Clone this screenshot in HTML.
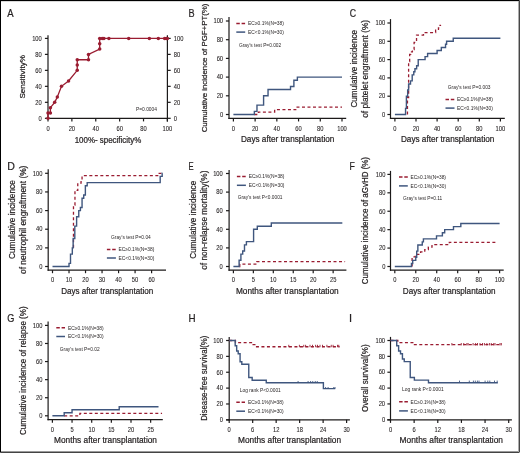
<!DOCTYPE html><html><head><meta charset="utf-8"><style>html,body{margin:0;padding:0;background:#fff;overflow:hidden;}svg{display:block;will-change:transform;} text{stroke:#231f20;stroke-width:0;} .t1{stroke-width:0.22px;} .t2{stroke-width:0.08px;}</style></head><body>
<svg width="520" height="453" viewBox="0 0 520 453" font-family='"Liberation Sans", sans-serif'>
<rect x="0" y="0" width="520" height="453" fill="#fff"/>
<text transform="translate(7.35,16.70) scale(0.867,1)" font-size="11.01" class="t1" fill="#231f20">A</text>
<line x1="48.0" y1="35.3" x2="48.0" y2="118.89999999999999" stroke="#1c1a1a" stroke-width="1.2"/>
<line x1="47.4" y1="118.3" x2="167.4" y2="118.3" stroke="#1c1a1a" stroke-width="1.2"/>
<line x1="44.9" y1="118.3" x2="48.0" y2="118.3" stroke="#1c1a1a" stroke-width="1.2"/>
<text x="41.8" y="120.57" font-size="6.3" text-anchor="end" textLength="3.22" lengthAdjust="spacingAndGlyphs" class="t2" fill="#231f20">0</text>
<line x1="44.9" y1="102.32" x2="48.0" y2="102.32" stroke="#1c1a1a" stroke-width="1.2"/>
<text x="41.8" y="104.59" font-size="6.3" text-anchor="end" textLength="6.45" lengthAdjust="spacingAndGlyphs" class="t2" fill="#231f20">20</text>
<line x1="44.9" y1="86.34" x2="48.0" y2="86.34" stroke="#1c1a1a" stroke-width="1.2"/>
<text x="41.8" y="88.61" font-size="6.3" text-anchor="end" textLength="6.45" lengthAdjust="spacingAndGlyphs" class="t2" fill="#231f20">40</text>
<line x1="44.9" y1="70.36" x2="48.0" y2="70.36" stroke="#1c1a1a" stroke-width="1.2"/>
<text x="41.8" y="72.63" font-size="6.3" text-anchor="end" textLength="6.45" lengthAdjust="spacingAndGlyphs" class="t2" fill="#231f20">60</text>
<line x1="44.9" y1="54.38" x2="48.0" y2="54.38" stroke="#1c1a1a" stroke-width="1.2"/>
<text x="41.8" y="56.65" font-size="6.3" text-anchor="end" textLength="6.45" lengthAdjust="spacingAndGlyphs" class="t2" fill="#231f20">80</text>
<line x1="44.9" y1="38.4" x2="48.0" y2="38.4" stroke="#1c1a1a" stroke-width="1.2"/>
<text x="41.8" y="40.67" font-size="6.3" text-anchor="end" textLength="9.67" lengthAdjust="spacingAndGlyphs" class="t2" fill="#231f20">100</text>
<line x1="48.0" y1="118.3" x2="48.0" y2="121.39999999999999" stroke="#1c1a1a" stroke-width="1.2"/>
<text x="48.0" y="130.57" font-size="6.3" text-anchor="middle" textLength="3.22" lengthAdjust="spacingAndGlyphs" class="t2" fill="#231f20">0</text>
<line x1="71.88" y1="118.3" x2="71.88" y2="121.39999999999999" stroke="#1c1a1a" stroke-width="1.2"/>
<text x="71.88" y="130.57" font-size="6.3" text-anchor="middle" textLength="6.45" lengthAdjust="spacingAndGlyphs" class="t2" fill="#231f20">20</text>
<line x1="95.76" y1="118.3" x2="95.76" y2="121.39999999999999" stroke="#1c1a1a" stroke-width="1.2"/>
<text x="95.76" y="130.57" font-size="6.3" text-anchor="middle" textLength="6.45" lengthAdjust="spacingAndGlyphs" class="t2" fill="#231f20">40</text>
<line x1="119.64" y1="118.3" x2="119.64" y2="121.39999999999999" stroke="#1c1a1a" stroke-width="1.2"/>
<text x="119.64" y="130.57" font-size="6.3" text-anchor="middle" textLength="6.45" lengthAdjust="spacingAndGlyphs" class="t2" fill="#231f20">60</text>
<line x1="143.52" y1="118.3" x2="143.52" y2="121.39999999999999" stroke="#1c1a1a" stroke-width="1.2"/>
<text x="143.52" y="130.57" font-size="6.3" text-anchor="middle" textLength="6.45" lengthAdjust="spacingAndGlyphs" class="t2" fill="#231f20">80</text>
<line x1="167.4" y1="118.3" x2="167.4" y2="121.39999999999999" stroke="#1c1a1a" stroke-width="1.2"/>
<text x="167.4" y="130.57" font-size="6.3" text-anchor="middle" textLength="9.67" lengthAdjust="spacingAndGlyphs" class="t2" fill="#231f20">100</text>
<line x1="167.4" y1="35.2" x2="167.4" y2="121.6" stroke="#1c1a1a" stroke-width="1.2"/>
<line x1="167.4" y1="118.3" x2="170.7" y2="118.3" stroke="#1c1a1a" stroke-width="1.2"/>
<text x="173.8" y="120.57" font-size="6.3" textLength="3.22" lengthAdjust="spacingAndGlyphs" class="t2" fill="#231f20">0</text>
<line x1="167.4" y1="102.32" x2="170.7" y2="102.32" stroke="#1c1a1a" stroke-width="1.2"/>
<text x="173.8" y="104.59" font-size="6.3" textLength="6.45" lengthAdjust="spacingAndGlyphs" class="t2" fill="#231f20">20</text>
<line x1="167.4" y1="86.34" x2="170.7" y2="86.34" stroke="#1c1a1a" stroke-width="1.2"/>
<text x="173.8" y="88.61" font-size="6.3" textLength="6.45" lengthAdjust="spacingAndGlyphs" class="t2" fill="#231f20">40</text>
<line x1="167.4" y1="70.36" x2="170.7" y2="70.36" stroke="#1c1a1a" stroke-width="1.2"/>
<text x="173.8" y="72.63" font-size="6.3" textLength="6.45" lengthAdjust="spacingAndGlyphs" class="t2" fill="#231f20">60</text>
<line x1="167.4" y1="54.38" x2="170.7" y2="54.38" stroke="#1c1a1a" stroke-width="1.2"/>
<text x="173.8" y="56.65" font-size="6.3" textLength="6.45" lengthAdjust="spacingAndGlyphs" class="t2" fill="#231f20">80</text>
<line x1="167.4" y1="38.4" x2="170.7" y2="38.4" stroke="#1c1a1a" stroke-width="1.2"/>
<text x="173.8" y="40.67" font-size="6.3" textLength="9.67" lengthAdjust="spacingAndGlyphs" class="t2" fill="#231f20">100</text>
<text x="24.9" y="76.85" font-size="8.1" text-anchor="middle" transform="rotate(-90 24.9 76.85)" textLength="43.5" lengthAdjust="spacingAndGlyphs" class="t1" fill="#231f20">Sensitivity%</text>
<text x="108.0" y="142.5" font-size="8.2" text-anchor="middle" textLength="66.6" lengthAdjust="spacingAndGlyphs" class="t1" fill="#231f20">100%- specificity%</text>
<text x="136" y="111.1" font-size="4.8" textLength="21" lengthAdjust="spacingAndGlyphs" fill="#231f20">P=0.0004</text>
<path d="M48.0,118.3 L48.0,112.97 L50.39,112.97 L50.39,107.67 L54.69,102.32 L57.31,96.97 L61.49,86.34 L68.54,80.99 L77.25,70.36 L77.25,65.01 L77.25,59.73 L88.48,59.73 L88.48,54.38 L99.7,49.03 L99.7,43.75 L99.7,38.4 L102.21,38.4 L103.88,38.4 L108.89,38.4 L128.71,38.4 L149.37,38.4 L158.33,38.4 L164.65,38.4 L166.33,38.4 L167.4,38.4" fill="none" stroke="#9a1c31" stroke-width="1.3"/>
<circle cx="48.0" cy="118.3" r="1.75" fill="#9a1c31"/>
<circle cx="48.0" cy="112.97" r="1.75" fill="#9a1c31"/>
<circle cx="50.39" cy="112.97" r="1.75" fill="#9a1c31"/>
<circle cx="50.39" cy="107.67" r="1.75" fill="#9a1c31"/>
<circle cx="54.69" cy="102.32" r="1.75" fill="#9a1c31"/>
<circle cx="57.31" cy="96.97" r="1.75" fill="#9a1c31"/>
<circle cx="61.49" cy="86.34" r="1.75" fill="#9a1c31"/>
<circle cx="68.54" cy="80.99" r="1.75" fill="#9a1c31"/>
<circle cx="77.25" cy="70.36" r="1.75" fill="#9a1c31"/>
<circle cx="77.25" cy="65.01" r="1.75" fill="#9a1c31"/>
<circle cx="77.25" cy="59.73" r="1.75" fill="#9a1c31"/>
<circle cx="88.48" cy="59.73" r="1.75" fill="#9a1c31"/>
<circle cx="88.48" cy="54.38" r="1.75" fill="#9a1c31"/>
<circle cx="99.7" cy="49.03" r="1.75" fill="#9a1c31"/>
<circle cx="99.7" cy="43.75" r="1.75" fill="#9a1c31"/>
<circle cx="99.7" cy="38.4" r="1.75" fill="#9a1c31"/>
<circle cx="102.21" cy="38.4" r="1.75" fill="#9a1c31"/>
<circle cx="103.88" cy="38.4" r="1.75" fill="#9a1c31"/>
<circle cx="108.89" cy="38.4" r="1.75" fill="#9a1c31"/>
<circle cx="128.71" cy="38.4" r="1.75" fill="#9a1c31"/>
<circle cx="149.37" cy="38.4" r="1.75" fill="#9a1c31"/>
<circle cx="158.33" cy="38.4" r="1.75" fill="#9a1c31"/>
<circle cx="164.65" cy="38.4" r="1.75" fill="#9a1c31"/>
<circle cx="166.33" cy="38.4" r="1.75" fill="#9a1c31"/>
<circle cx="167.4" cy="38.4" r="1.75" fill="#9a1c31"/>
<text transform="translate(188.47,16.70) scale(0.832,1)" font-size="11.01" class="t1" fill="#231f20">B</text>
<line x1="229.0" y1="17.1" x2="229.0" y2="118.94999999999999" stroke="#1c1a1a" stroke-width="1.2"/>
<line x1="228.4" y1="118.35" x2="346.2" y2="118.35" stroke="#1c1a1a" stroke-width="1.2"/>
<line x1="225.9" y1="114.5" x2="229.0" y2="114.5" stroke="#1c1a1a" stroke-width="1.2"/>
<text x="223.1" y="116.77" font-size="6.3" text-anchor="end" textLength="3.22" lengthAdjust="spacingAndGlyphs" class="t2" fill="#231f20">0</text>
<line x1="225.9" y1="95.8" x2="229.0" y2="95.8" stroke="#1c1a1a" stroke-width="1.2"/>
<text x="223.1" y="98.07" font-size="6.3" text-anchor="end" textLength="6.45" lengthAdjust="spacingAndGlyphs" class="t2" fill="#231f20">20</text>
<line x1="225.9" y1="77.1" x2="229.0" y2="77.1" stroke="#1c1a1a" stroke-width="1.2"/>
<text x="223.1" y="79.37" font-size="6.3" text-anchor="end" textLength="6.45" lengthAdjust="spacingAndGlyphs" class="t2" fill="#231f20">40</text>
<line x1="225.9" y1="58.4" x2="229.0" y2="58.4" stroke="#1c1a1a" stroke-width="1.2"/>
<text x="223.1" y="60.67" font-size="6.3" text-anchor="end" textLength="6.45" lengthAdjust="spacingAndGlyphs" class="t2" fill="#231f20">60</text>
<line x1="225.9" y1="39.7" x2="229.0" y2="39.7" stroke="#1c1a1a" stroke-width="1.2"/>
<text x="223.1" y="41.97" font-size="6.3" text-anchor="end" textLength="6.45" lengthAdjust="spacingAndGlyphs" class="t2" fill="#231f20">80</text>
<line x1="225.9" y1="21.0" x2="229.0" y2="21.0" stroke="#1c1a1a" stroke-width="1.2"/>
<text x="223.1" y="23.27" font-size="6.3" text-anchor="end" textLength="9.67" lengthAdjust="spacingAndGlyphs" class="t2" fill="#231f20">100</text>
<line x1="233.4" y1="118.35" x2="233.4" y2="121.44999999999999" stroke="#1c1a1a" stroke-width="1.2"/>
<text x="233.4" y="130.87" font-size="6.3" text-anchor="middle" textLength="3.22" lengthAdjust="spacingAndGlyphs" class="t2" fill="#231f20">0</text>
<line x1="255.12" y1="118.35" x2="255.12" y2="121.44999999999999" stroke="#1c1a1a" stroke-width="1.2"/>
<text x="255.12" y="130.87" font-size="6.3" text-anchor="middle" textLength="6.45" lengthAdjust="spacingAndGlyphs" class="t2" fill="#231f20">20</text>
<line x1="276.84" y1="118.35" x2="276.84" y2="121.44999999999999" stroke="#1c1a1a" stroke-width="1.2"/>
<text x="276.84" y="130.87" font-size="6.3" text-anchor="middle" textLength="6.45" lengthAdjust="spacingAndGlyphs" class="t2" fill="#231f20">40</text>
<line x1="298.56" y1="118.35" x2="298.56" y2="121.44999999999999" stroke="#1c1a1a" stroke-width="1.2"/>
<text x="298.56" y="130.87" font-size="6.3" text-anchor="middle" textLength="6.45" lengthAdjust="spacingAndGlyphs" class="t2" fill="#231f20">60</text>
<line x1="320.28" y1="118.35" x2="320.28" y2="121.44999999999999" stroke="#1c1a1a" stroke-width="1.2"/>
<text x="320.28" y="130.87" font-size="6.3" text-anchor="middle" textLength="6.45" lengthAdjust="spacingAndGlyphs" class="t2" fill="#231f20">80</text>
<line x1="342.0" y1="118.35" x2="342.0" y2="121.44999999999999" stroke="#1c1a1a" stroke-width="1.2"/>
<text x="342.0" y="130.87" font-size="6.3" text-anchor="middle" textLength="9.67" lengthAdjust="spacingAndGlyphs" class="t2" fill="#231f20">100</text>
<text x="206.8" y="67.9" font-size="8.0" text-anchor="middle" transform="rotate(-90 206.8 67.9)" textLength="128.8" lengthAdjust="spacingAndGlyphs" class="t1" fill="#231f20">Cumulative incidence of PGF+PT(%)</text>
<text x="287.65" y="141.6" font-size="8.7" text-anchor="middle" textLength="93.5" lengthAdjust="spacingAndGlyphs" class="t1" fill="#231f20">Days after transplantation</text>
<line x1="236.3" y1="23.5" x2="245.2" y2="23.5" stroke="#9a1c31" stroke-width="1.5" stroke-dasharray="3.5 1.8"/>
<line x1="236.3" y1="32.1" x2="245.2" y2="32.1" stroke="#3f567e" stroke-width="1.5"/>
<text x="248.1" y="25.3" font-size="5.0" textLength="35.8" lengthAdjust="spacingAndGlyphs" fill="#231f20">EC≥0.1%(N=38)</text>
<text x="248.1" y="33.9" font-size="5.0" textLength="35.8" lengthAdjust="spacingAndGlyphs" fill="#231f20">EC&lt;0.1%(N=30)</text>
<text x="239" y="46.7" font-size="5.0" textLength="42.2" lengthAdjust="spacingAndGlyphs" fill="#231f20">Gray's test P=0.002</text>
<path d="M254.36,114.5H258.38V112.04H274.67V109.58H295.74V107.12H342.0" fill="none" stroke="#9a1c31" stroke-width="1.3" stroke-dasharray="3 2.5"/>
<path d="M233.4,114.5H254.36V111.39H256.97V105.15H263.59V95.8H268.04V89.54H290.52V86.45H293.89V80.19H297.37V77.1H342.0" fill="none" stroke="#3f567e" stroke-width="1.4"/>
<text transform="translate(349.76,16.90) scale(0.753,1)" font-size="11.59" class="t1" fill="#231f20">C</text>
<line x1="390.5" y1="19.1" x2="390.5" y2="118.89999999999999" stroke="#1c1a1a" stroke-width="1.2"/>
<line x1="389.9" y1="118.3" x2="504.8" y2="118.3" stroke="#1c1a1a" stroke-width="1.2"/>
<line x1="387.4" y1="114.5" x2="390.5" y2="114.5" stroke="#1c1a1a" stroke-width="1.2"/>
<text x="385.2" y="116.77" font-size="6.3" text-anchor="end" textLength="3.22" lengthAdjust="spacingAndGlyphs" class="t2" fill="#231f20">0</text>
<line x1="387.4" y1="96.2" x2="390.5" y2="96.2" stroke="#1c1a1a" stroke-width="1.2"/>
<text x="385.2" y="98.47" font-size="6.3" text-anchor="end" textLength="6.45" lengthAdjust="spacingAndGlyphs" class="t2" fill="#231f20">20</text>
<line x1="387.4" y1="77.9" x2="390.5" y2="77.9" stroke="#1c1a1a" stroke-width="1.2"/>
<text x="385.2" y="80.17" font-size="6.3" text-anchor="end" textLength="6.45" lengthAdjust="spacingAndGlyphs" class="t2" fill="#231f20">40</text>
<line x1="387.4" y1="59.6" x2="390.5" y2="59.6" stroke="#1c1a1a" stroke-width="1.2"/>
<text x="385.2" y="61.87" font-size="6.3" text-anchor="end" textLength="6.45" lengthAdjust="spacingAndGlyphs" class="t2" fill="#231f20">60</text>
<line x1="387.4" y1="41.3" x2="390.5" y2="41.3" stroke="#1c1a1a" stroke-width="1.2"/>
<text x="385.2" y="43.57" font-size="6.3" text-anchor="end" textLength="6.45" lengthAdjust="spacingAndGlyphs" class="t2" fill="#231f20">80</text>
<line x1="387.4" y1="23.0" x2="390.5" y2="23.0" stroke="#1c1a1a" stroke-width="1.2"/>
<text x="385.2" y="25.27" font-size="6.3" text-anchor="end" textLength="9.67" lengthAdjust="spacingAndGlyphs" class="t2" fill="#231f20">100</text>
<line x1="394.9" y1="118.3" x2="394.9" y2="121.39999999999999" stroke="#1c1a1a" stroke-width="1.2"/>
<text x="394.9" y="130.57" font-size="6.3" text-anchor="middle" textLength="3.22" lengthAdjust="spacingAndGlyphs" class="t2" fill="#231f20">0</text>
<line x1="416.0" y1="118.3" x2="416.0" y2="121.39999999999999" stroke="#1c1a1a" stroke-width="1.2"/>
<text x="416.0" y="130.57" font-size="6.3" text-anchor="middle" textLength="6.45" lengthAdjust="spacingAndGlyphs" class="t2" fill="#231f20">20</text>
<line x1="437.1" y1="118.3" x2="437.1" y2="121.39999999999999" stroke="#1c1a1a" stroke-width="1.2"/>
<text x="437.1" y="130.57" font-size="6.3" text-anchor="middle" textLength="6.45" lengthAdjust="spacingAndGlyphs" class="t2" fill="#231f20">40</text>
<line x1="458.2" y1="118.3" x2="458.2" y2="121.39999999999999" stroke="#1c1a1a" stroke-width="1.2"/>
<text x="458.2" y="130.57" font-size="6.3" text-anchor="middle" textLength="6.45" lengthAdjust="spacingAndGlyphs" class="t2" fill="#231f20">60</text>
<line x1="479.3" y1="118.3" x2="479.3" y2="121.39999999999999" stroke="#1c1a1a" stroke-width="1.2"/>
<text x="479.3" y="130.57" font-size="6.3" text-anchor="middle" textLength="6.45" lengthAdjust="spacingAndGlyphs" class="t2" fill="#231f20">80</text>
<line x1="500.4" y1="118.3" x2="500.4" y2="121.39999999999999" stroke="#1c1a1a" stroke-width="1.2"/>
<text x="500.4" y="130.57" font-size="6.3" text-anchor="middle" textLength="9.67" lengthAdjust="spacingAndGlyphs" class="t2" fill="#231f20">100</text>
<text x="356.9" y="68.75" font-size="8.3" text-anchor="middle" transform="rotate(-90 356.9 68.75)" textLength="77.7" lengthAdjust="spacingAndGlyphs" class="t1" fill="#231f20">Cumulative incidence</text>
<text x="368.0" y="68.85" font-size="8.3" text-anchor="middle" transform="rotate(-90 368.0 68.85)" textLength="97.9" lengthAdjust="spacingAndGlyphs" class="t1" fill="#231f20">of platelet engraftment (%)</text>
<text x="447.65" y="141.6" font-size="8.7" text-anchor="middle" textLength="93.5" lengthAdjust="spacingAndGlyphs" class="t1" fill="#231f20">Days after transplantation</text>
<text x="447.8" y="89.3" font-size="5.0" textLength="42.8" lengthAdjust="spacingAndGlyphs" fill="#231f20">Gray's test P=0.003</text>
<line x1="445.5" y1="99.6" x2="454.5" y2="99.6" stroke="#9a1c31" stroke-width="1.5" stroke-dasharray="3.5 1.8"/>
<line x1="445.5" y1="108.1" x2="454.5" y2="108.1" stroke="#3f567e" stroke-width="1.5"/>
<text x="456.9" y="101.4" font-size="5.0" textLength="36" lengthAdjust="spacingAndGlyphs" fill="#231f20">EC≥0.1%(N=38)</text>
<text x="456.9" y="109.9" font-size="5.0" textLength="36" lengthAdjust="spacingAndGlyphs" fill="#231f20">EC&lt;0.1%(N=30)</text>
<path d="M407.45,114.5H407.45V97.66H408.61V61.52H409.67V54.29H410.72V51.91H412.41V49.49H414.1V42.31H416.53V35.08H423.49V32.61H435.62V30.23H438.47V27.85H440.05V25.38H441.11" fill="none" stroke="#9a1c31" stroke-width="1.3" stroke-dasharray="3 2.5"/>
<path d="M394.9,114.5H405.56V108.4H406.4V96.2H407.67V90.07H408.61V84.03H410.51V80.92H412.2V74.88H413.78V71.77H414.94V68.75H416.63V65.73H418.22V59.6H425.07V56.58H427.6V53.47H437.1V50.45H441.32V47.43H445.54V44.32H446.59V41.3H453.24V38.28H500.4" fill="none" stroke="#3f567e" stroke-width="1.4"/>
<text transform="translate(7.35,169.70) scale(0.961,1)" font-size="11.01" class="t1" fill="#231f20">D</text>
<line x1="48.2" y1="169.2" x2="48.2" y2="270.70000000000005" stroke="#1c1a1a" stroke-width="1.2"/>
<line x1="47.6" y1="270.1" x2="166.0" y2="270.1" stroke="#1c1a1a" stroke-width="1.2"/>
<line x1="45.1" y1="266.5" x2="48.2" y2="266.5" stroke="#1c1a1a" stroke-width="1.2"/>
<text x="42.4" y="268.77" font-size="6.3" text-anchor="end" textLength="3.22" lengthAdjust="spacingAndGlyphs" class="t2" fill="#231f20">0</text>
<line x1="45.1" y1="247.86" x2="48.2" y2="247.86" stroke="#1c1a1a" stroke-width="1.2"/>
<text x="42.4" y="250.13" font-size="6.3" text-anchor="end" textLength="6.45" lengthAdjust="spacingAndGlyphs" class="t2" fill="#231f20">20</text>
<line x1="45.1" y1="229.22" x2="48.2" y2="229.22" stroke="#1c1a1a" stroke-width="1.2"/>
<text x="42.4" y="231.49" font-size="6.3" text-anchor="end" textLength="6.45" lengthAdjust="spacingAndGlyphs" class="t2" fill="#231f20">40</text>
<line x1="45.1" y1="210.58" x2="48.2" y2="210.58" stroke="#1c1a1a" stroke-width="1.2"/>
<text x="42.4" y="212.85" font-size="6.3" text-anchor="end" textLength="6.45" lengthAdjust="spacingAndGlyphs" class="t2" fill="#231f20">60</text>
<line x1="45.1" y1="191.94" x2="48.2" y2="191.94" stroke="#1c1a1a" stroke-width="1.2"/>
<text x="42.4" y="194.21" font-size="6.3" text-anchor="end" textLength="6.45" lengthAdjust="spacingAndGlyphs" class="t2" fill="#231f20">80</text>
<line x1="45.1" y1="173.3" x2="48.2" y2="173.3" stroke="#1c1a1a" stroke-width="1.2"/>
<text x="42.4" y="175.57" font-size="6.3" text-anchor="end" textLength="9.67" lengthAdjust="spacingAndGlyphs" class="t2" fill="#231f20">100</text>
<line x1="52.5" y1="270.1" x2="52.5" y2="273.20000000000005" stroke="#1c1a1a" stroke-width="1.2"/>
<text x="52.5" y="282.47" font-size="6.3" text-anchor="middle" textLength="3.22" lengthAdjust="spacingAndGlyphs" class="t2" fill="#231f20">0</text>
<line x1="69.02" y1="270.1" x2="69.02" y2="273.20000000000005" stroke="#1c1a1a" stroke-width="1.2"/>
<text x="69.02" y="282.47" font-size="6.3" text-anchor="middle" textLength="6.45" lengthAdjust="spacingAndGlyphs" class="t2" fill="#231f20">10</text>
<line x1="85.53" y1="270.1" x2="85.53" y2="273.20000000000005" stroke="#1c1a1a" stroke-width="1.2"/>
<text x="85.53" y="282.47" font-size="6.3" text-anchor="middle" textLength="6.45" lengthAdjust="spacingAndGlyphs" class="t2" fill="#231f20">20</text>
<line x1="102.05" y1="270.1" x2="102.05" y2="273.20000000000005" stroke="#1c1a1a" stroke-width="1.2"/>
<text x="102.05" y="282.47" font-size="6.3" text-anchor="middle" textLength="6.45" lengthAdjust="spacingAndGlyphs" class="t2" fill="#231f20">30</text>
<line x1="118.57" y1="270.1" x2="118.57" y2="273.20000000000005" stroke="#1c1a1a" stroke-width="1.2"/>
<text x="118.57" y="282.47" font-size="6.3" text-anchor="middle" textLength="6.45" lengthAdjust="spacingAndGlyphs" class="t2" fill="#231f20">40</text>
<line x1="135.08" y1="270.1" x2="135.08" y2="273.20000000000005" stroke="#1c1a1a" stroke-width="1.2"/>
<text x="135.08" y="282.47" font-size="6.3" text-anchor="middle" textLength="6.45" lengthAdjust="spacingAndGlyphs" class="t2" fill="#231f20">50</text>
<line x1="151.6" y1="270.1" x2="151.6" y2="273.20000000000005" stroke="#1c1a1a" stroke-width="1.2"/>
<text x="151.6" y="282.47" font-size="6.3" text-anchor="middle" textLength="6.45" lengthAdjust="spacingAndGlyphs" class="t2" fill="#231f20">60</text>
<text x="14.7" y="219.6" font-size="8.8" text-anchor="middle" transform="rotate(-90 14.7 219.6)" textLength="78.8" lengthAdjust="spacingAndGlyphs" class="t1" fill="#231f20">Cumulative incidence</text>
<text x="26.2" y="219.8" font-size="8.8" text-anchor="middle" transform="rotate(-90 26.2 219.8)" textLength="108.4" lengthAdjust="spacingAndGlyphs" class="t1" fill="#231f20">of neutrophil engraftment (%)</text>
<text x="107.2" y="293.8" font-size="8.7" text-anchor="middle" textLength="92.0" lengthAdjust="spacingAndGlyphs" class="t1" fill="#231f20">Days after transplantation</text>
<text x="111" y="239.0" font-size="5.0" textLength="39.8" lengthAdjust="spacingAndGlyphs" fill="#231f20">Gray's test P=0.04</text>
<line x1="106.9" y1="249.6" x2="115.9" y2="249.6" stroke="#9a1c31" stroke-width="1.5" stroke-dasharray="3.5 1.8"/>
<line x1="106.9" y1="258.0" x2="115.9" y2="258.0" stroke="#3f567e" stroke-width="1.5"/>
<text x="118.5" y="251.4" font-size="5.0" textLength="35.8" lengthAdjust="spacingAndGlyphs" fill="#231f20">EC≥0.1%(N=38)</text>
<text x="118.5" y="259.8" font-size="5.0" textLength="35.8" lengthAdjust="spacingAndGlyphs" fill="#231f20">EC&lt;0.1%(N=30)</text>
<path d="M73.48,247.86H73.48V205.17H74.96V190.45H77.77V183.09H81.07V180.66H82.06V175.72H159.2H159.2V173.3H162.01" fill="none" stroke="#9a1c31" stroke-width="1.3" stroke-dasharray="3 2.5"/>
<path d="M52.5,266.5H69.02V263.4H70.5V254.1H72.32V247.86H73.15V238.54H74.8V226.14H76.61V216.82H78.76V210.58H80.41V207.5H82.06V198.18H83.72V195.02H85.37V185.7H87.19V182.62H160.19V176.38H162.17V173.3H162.5" fill="none" stroke="#3f567e" stroke-width="1.4"/>
<text transform="translate(188.58,169.70) scale(0.700,1)" font-size="11.01" class="t1" fill="#231f20">E</text>
<line x1="229.1" y1="169.9" x2="229.1" y2="270.8" stroke="#1c1a1a" stroke-width="1.2"/>
<line x1="228.5" y1="270.2" x2="346.4" y2="270.2" stroke="#1c1a1a" stroke-width="1.2"/>
<line x1="226.0" y1="266.5" x2="229.1" y2="266.5" stroke="#1c1a1a" stroke-width="1.2"/>
<text x="222.8" y="268.77" font-size="6.3" text-anchor="end" textLength="3.22" lengthAdjust="spacingAndGlyphs" class="t2" fill="#231f20">0</text>
<line x1="226.0" y1="247.9" x2="229.1" y2="247.9" stroke="#1c1a1a" stroke-width="1.2"/>
<text x="222.8" y="250.17" font-size="6.3" text-anchor="end" textLength="6.45" lengthAdjust="spacingAndGlyphs" class="t2" fill="#231f20">20</text>
<line x1="226.0" y1="229.3" x2="229.1" y2="229.3" stroke="#1c1a1a" stroke-width="1.2"/>
<text x="222.8" y="231.57" font-size="6.3" text-anchor="end" textLength="6.45" lengthAdjust="spacingAndGlyphs" class="t2" fill="#231f20">40</text>
<line x1="226.0" y1="210.7" x2="229.1" y2="210.7" stroke="#1c1a1a" stroke-width="1.2"/>
<text x="222.8" y="212.97" font-size="6.3" text-anchor="end" textLength="6.45" lengthAdjust="spacingAndGlyphs" class="t2" fill="#231f20">60</text>
<line x1="226.0" y1="192.1" x2="229.1" y2="192.1" stroke="#1c1a1a" stroke-width="1.2"/>
<text x="222.8" y="194.37" font-size="6.3" text-anchor="end" textLength="6.45" lengthAdjust="spacingAndGlyphs" class="t2" fill="#231f20">80</text>
<line x1="226.0" y1="173.5" x2="229.1" y2="173.5" stroke="#1c1a1a" stroke-width="1.2"/>
<text x="222.8" y="175.77" font-size="6.3" text-anchor="end" textLength="9.67" lengthAdjust="spacingAndGlyphs" class="t2" fill="#231f20">100</text>
<line x1="233.4" y1="270.2" x2="233.4" y2="273.3" stroke="#1c1a1a" stroke-width="1.2"/>
<text x="233.4" y="282.47" font-size="6.3" text-anchor="middle" textLength="3.22" lengthAdjust="spacingAndGlyphs" class="t2" fill="#231f20">0</text>
<line x1="253.35" y1="270.2" x2="253.35" y2="273.3" stroke="#1c1a1a" stroke-width="1.2"/>
<text x="253.35" y="282.47" font-size="6.3" text-anchor="middle" textLength="3.22" lengthAdjust="spacingAndGlyphs" class="t2" fill="#231f20">5</text>
<line x1="273.3" y1="270.2" x2="273.3" y2="273.3" stroke="#1c1a1a" stroke-width="1.2"/>
<text x="273.3" y="282.47" font-size="6.3" text-anchor="middle" textLength="6.45" lengthAdjust="spacingAndGlyphs" class="t2" fill="#231f20">10</text>
<line x1="293.25" y1="270.2" x2="293.25" y2="273.3" stroke="#1c1a1a" stroke-width="1.2"/>
<text x="293.25" y="282.47" font-size="6.3" text-anchor="middle" textLength="6.45" lengthAdjust="spacingAndGlyphs" class="t2" fill="#231f20">15</text>
<line x1="313.2" y1="270.2" x2="313.2" y2="273.3" stroke="#1c1a1a" stroke-width="1.2"/>
<text x="313.2" y="282.47" font-size="6.3" text-anchor="middle" textLength="6.45" lengthAdjust="spacingAndGlyphs" class="t2" fill="#231f20">20</text>
<line x1="333.15" y1="270.2" x2="333.15" y2="273.3" stroke="#1c1a1a" stroke-width="1.2"/>
<text x="333.15" y="282.47" font-size="6.3" text-anchor="middle" textLength="6.45" lengthAdjust="spacingAndGlyphs" class="t2" fill="#231f20">25</text>
<text x="195.6" y="219.7" font-size="8.8" text-anchor="middle" transform="rotate(-90 195.6 219.7)" textLength="78.0" lengthAdjust="spacingAndGlyphs" class="t1" fill="#231f20">Cumulative incidence</text>
<text x="206.6" y="220.2" font-size="8.8" text-anchor="middle" transform="rotate(-90 206.6 220.2)" textLength="99.2" lengthAdjust="spacingAndGlyphs" class="t1" fill="#231f20">of non-relapse mortality(%)</text>
<text x="287.3" y="293.8" font-size="8.7" text-anchor="middle" textLength="102.8" lengthAdjust="spacingAndGlyphs" class="t1" fill="#231f20">Months after transplantation</text>
<line x1="236.9" y1="176.4" x2="245.9" y2="176.4" stroke="#9a1c31" stroke-width="1.5" stroke-dasharray="3.5 1.8"/>
<line x1="236.9" y1="185.3" x2="245.9" y2="185.3" stroke="#3f567e" stroke-width="1.5"/>
<text x="248.7" y="178.2" font-size="5.0" textLength="35.8" lengthAdjust="spacingAndGlyphs" fill="#231f20">EC≥0.1%(N=38)</text>
<text x="248.7" y="187.1" font-size="5.0" textLength="35.8" lengthAdjust="spacingAndGlyphs" fill="#231f20">EC&lt;0.1%(N=30)</text>
<text x="237.8" y="199.2" font-size="5.0" textLength="44.7" lengthAdjust="spacingAndGlyphs" fill="#231f20">Gray's test P&lt;0.0001</text>
<path d="M239.38,266.5H239.78V264.05H256.7V261.61H345.12" fill="none" stroke="#9a1c31" stroke-width="1.3" stroke-dasharray="3 2.5"/>
<path d="M233.4,266.5H239.11V260.3H240.9V254.13H242.7V250.97H244.49V244.83H246.41V241.67H253.59V229.3H257.3V226.23H271.31V223.07H342.33" fill="none" stroke="#3f567e" stroke-width="1.4"/>
<text transform="translate(349.50,169.70) scale(0.797,1)" font-size="11.01" class="t1" fill="#231f20">F</text>
<line x1="390.5" y1="170.9" x2="390.5" y2="270.8" stroke="#1c1a1a" stroke-width="1.2"/>
<line x1="389.9" y1="270.2" x2="503.7" y2="270.2" stroke="#1c1a1a" stroke-width="1.2"/>
<line x1="387.4" y1="266.5" x2="390.5" y2="266.5" stroke="#1c1a1a" stroke-width="1.2"/>
<text x="385.4" y="268.77" font-size="6.3" text-anchor="end" textLength="3.22" lengthAdjust="spacingAndGlyphs" class="t2" fill="#231f20">0</text>
<line x1="387.4" y1="248.08" x2="390.5" y2="248.08" stroke="#1c1a1a" stroke-width="1.2"/>
<text x="385.4" y="250.35" font-size="6.3" text-anchor="end" textLength="6.45" lengthAdjust="spacingAndGlyphs" class="t2" fill="#231f20">20</text>
<line x1="387.4" y1="229.66" x2="390.5" y2="229.66" stroke="#1c1a1a" stroke-width="1.2"/>
<text x="385.4" y="231.93" font-size="6.3" text-anchor="end" textLength="6.45" lengthAdjust="spacingAndGlyphs" class="t2" fill="#231f20">40</text>
<line x1="387.4" y1="211.24" x2="390.5" y2="211.24" stroke="#1c1a1a" stroke-width="1.2"/>
<text x="385.4" y="213.51" font-size="6.3" text-anchor="end" textLength="6.45" lengthAdjust="spacingAndGlyphs" class="t2" fill="#231f20">60</text>
<line x1="387.4" y1="192.82" x2="390.5" y2="192.82" stroke="#1c1a1a" stroke-width="1.2"/>
<text x="385.4" y="195.09" font-size="6.3" text-anchor="end" textLength="6.45" lengthAdjust="spacingAndGlyphs" class="t2" fill="#231f20">80</text>
<line x1="387.4" y1="174.4" x2="390.5" y2="174.4" stroke="#1c1a1a" stroke-width="1.2"/>
<text x="385.4" y="176.67" font-size="6.3" text-anchor="end" textLength="9.67" lengthAdjust="spacingAndGlyphs" class="t2" fill="#231f20">100</text>
<line x1="394.8" y1="270.2" x2="394.8" y2="273.3" stroke="#1c1a1a" stroke-width="1.2"/>
<text x="394.8" y="282.47" font-size="6.3" text-anchor="middle" textLength="3.22" lengthAdjust="spacingAndGlyphs" class="t2" fill="#231f20">0</text>
<line x1="415.76" y1="270.2" x2="415.76" y2="273.3" stroke="#1c1a1a" stroke-width="1.2"/>
<text x="415.76" y="282.47" font-size="6.3" text-anchor="middle" textLength="6.45" lengthAdjust="spacingAndGlyphs" class="t2" fill="#231f20">20</text>
<line x1="436.72" y1="270.2" x2="436.72" y2="273.3" stroke="#1c1a1a" stroke-width="1.2"/>
<text x="436.72" y="282.47" font-size="6.3" text-anchor="middle" textLength="6.45" lengthAdjust="spacingAndGlyphs" class="t2" fill="#231f20">40</text>
<line x1="457.68" y1="270.2" x2="457.68" y2="273.3" stroke="#1c1a1a" stroke-width="1.2"/>
<text x="457.68" y="282.47" font-size="6.3" text-anchor="middle" textLength="6.45" lengthAdjust="spacingAndGlyphs" class="t2" fill="#231f20">60</text>
<line x1="478.64" y1="270.2" x2="478.64" y2="273.3" stroke="#1c1a1a" stroke-width="1.2"/>
<text x="478.64" y="282.47" font-size="6.3" text-anchor="middle" textLength="6.45" lengthAdjust="spacingAndGlyphs" class="t2" fill="#231f20">80</text>
<line x1="499.6" y1="270.2" x2="499.6" y2="273.3" stroke="#1c1a1a" stroke-width="1.2"/>
<text x="499.6" y="282.47" font-size="6.3" text-anchor="middle" textLength="9.67" lengthAdjust="spacingAndGlyphs" class="t2" fill="#231f20">100</text>
<text x="368.2" y="220.6" font-size="8.8" text-anchor="middle" transform="rotate(-90 368.2 220.6)" textLength="127.2" lengthAdjust="spacingAndGlyphs" class="t1" fill="#231f20">Cumulative incidence of aGvHD (%)</text>
<text x="449.2" y="293.7" font-size="8.7" text-anchor="middle" textLength="92.8" lengthAdjust="spacingAndGlyphs" class="t1" fill="#231f20">Days after transplantation</text>
<line x1="399.0" y1="177.0" x2="407.8" y2="177.0" stroke="#9a1c31" stroke-width="1.5" stroke-dasharray="3.5 1.8"/>
<line x1="399.0" y1="185.9" x2="407.8" y2="185.9" stroke="#3f567e" stroke-width="1.5"/>
<text x="410.6" y="178.8" font-size="5.0" textLength="35.4" lengthAdjust="spacingAndGlyphs" fill="#231f20">EC≥0.1%(N=38)</text>
<text x="410.6" y="187.7" font-size="5.0" textLength="35.4" lengthAdjust="spacingAndGlyphs" fill="#231f20">EC&lt;0.1%(N=30)</text>
<text x="403.1" y="200.0" font-size="5.0" textLength="39.2" lengthAdjust="spacingAndGlyphs" fill="#231f20">Gray's test P=0.11</text>
<path d="M412.09,266.5H412.09V256.83H415.24V254.34H420.58V251.95H424.77V249.55H428.34V247.11H432.0V244.67H449.3V242.28H496.88" fill="none" stroke="#9a1c31" stroke-width="1.3" stroke-dasharray="3 2.5"/>
<path d="M394.8,266.5H411.46V263.43H412.72V260.36H415.76V257.29H416.7V251.12H417.86V245.04H422.26V241.91H423.41V238.87H436.51V235.83H442.38V232.7H444.68V229.66H453.49V226.62H460.82V223.49H499.6" fill="none" stroke="#3f567e" stroke-width="1.4"/>
<text transform="translate(7.24,321.70) scale(0.790,1)" font-size="11.59" class="t1" fill="#231f20">G</text>
<line x1="48.1" y1="321.6" x2="48.1" y2="420.3" stroke="#1c1a1a" stroke-width="1.2"/>
<line x1="47.5" y1="419.7" x2="162.8" y2="419.7" stroke="#1c1a1a" stroke-width="1.2"/>
<line x1="45.0" y1="415.8" x2="48.1" y2="415.8" stroke="#1c1a1a" stroke-width="1.2"/>
<text x="42.4" y="418.07" font-size="6.3" text-anchor="end" textLength="3.22" lengthAdjust="spacingAndGlyphs" class="t2" fill="#231f20">0</text>
<line x1="45.0" y1="397.72" x2="48.1" y2="397.72" stroke="#1c1a1a" stroke-width="1.2"/>
<text x="42.4" y="399.99" font-size="6.3" text-anchor="end" textLength="6.45" lengthAdjust="spacingAndGlyphs" class="t2" fill="#231f20">20</text>
<line x1="45.0" y1="379.64" x2="48.1" y2="379.64" stroke="#1c1a1a" stroke-width="1.2"/>
<text x="42.4" y="381.91" font-size="6.3" text-anchor="end" textLength="6.45" lengthAdjust="spacingAndGlyphs" class="t2" fill="#231f20">40</text>
<line x1="45.0" y1="361.56" x2="48.1" y2="361.56" stroke="#1c1a1a" stroke-width="1.2"/>
<text x="42.4" y="363.83" font-size="6.3" text-anchor="end" textLength="6.45" lengthAdjust="spacingAndGlyphs" class="t2" fill="#231f20">60</text>
<line x1="45.0" y1="343.48" x2="48.1" y2="343.48" stroke="#1c1a1a" stroke-width="1.2"/>
<text x="42.4" y="345.75" font-size="6.3" text-anchor="end" textLength="6.45" lengthAdjust="spacingAndGlyphs" class="t2" fill="#231f20">80</text>
<line x1="45.0" y1="325.4" x2="48.1" y2="325.4" stroke="#1c1a1a" stroke-width="1.2"/>
<text x="42.4" y="327.67" font-size="6.3" text-anchor="end" textLength="9.67" lengthAdjust="spacingAndGlyphs" class="t2" fill="#231f20">100</text>
<line x1="52.4" y1="419.7" x2="52.4" y2="422.8" stroke="#1c1a1a" stroke-width="1.2"/>
<text x="52.4" y="432.47" font-size="6.3" text-anchor="middle" textLength="3.22" lengthAdjust="spacingAndGlyphs" class="t2" fill="#231f20">0</text>
<line x1="72.05" y1="419.7" x2="72.05" y2="422.8" stroke="#1c1a1a" stroke-width="1.2"/>
<text x="72.05" y="432.47" font-size="6.3" text-anchor="middle" textLength="3.22" lengthAdjust="spacingAndGlyphs" class="t2" fill="#231f20">5</text>
<line x1="91.7" y1="419.7" x2="91.7" y2="422.8" stroke="#1c1a1a" stroke-width="1.2"/>
<text x="91.7" y="432.47" font-size="6.3" text-anchor="middle" textLength="6.45" lengthAdjust="spacingAndGlyphs" class="t2" fill="#231f20">10</text>
<line x1="111.35" y1="419.7" x2="111.35" y2="422.8" stroke="#1c1a1a" stroke-width="1.2"/>
<text x="111.35" y="432.47" font-size="6.3" text-anchor="middle" textLength="6.45" lengthAdjust="spacingAndGlyphs" class="t2" fill="#231f20">15</text>
<line x1="131.0" y1="419.7" x2="131.0" y2="422.8" stroke="#1c1a1a" stroke-width="1.2"/>
<text x="131.0" y="432.47" font-size="6.3" text-anchor="middle" textLength="6.45" lengthAdjust="spacingAndGlyphs" class="t2" fill="#231f20">20</text>
<line x1="150.65" y1="419.7" x2="150.65" y2="422.8" stroke="#1c1a1a" stroke-width="1.2"/>
<text x="150.65" y="432.47" font-size="6.3" text-anchor="middle" textLength="6.45" lengthAdjust="spacingAndGlyphs" class="t2" fill="#231f20">25</text>
<text x="25.6" y="370.75" font-size="8.5" text-anchor="middle" transform="rotate(-90 25.6 370.75)" textLength="128.7" lengthAdjust="spacingAndGlyphs" class="t1" fill="#231f20">Cumulative incidence of relapse (%)</text>
<text x="105.5" y="443.1" font-size="8.7" text-anchor="middle" textLength="103.0" lengthAdjust="spacingAndGlyphs" class="t1" fill="#231f20">Months after transplantation</text>
<line x1="56.3" y1="327.8" x2="65.0" y2="327.8" stroke="#9a1c31" stroke-width="1.5" stroke-dasharray="3.5 1.8"/>
<line x1="56.3" y1="336.5" x2="65.0" y2="336.5" stroke="#3f567e" stroke-width="1.5"/>
<text x="67.9" y="329.6" font-size="5.0" textLength="35.8" lengthAdjust="spacingAndGlyphs" fill="#231f20">EC≥0.1%(N=38)</text>
<text x="67.9" y="338.3" font-size="5.0" textLength="35.8" lengthAdjust="spacingAndGlyphs" fill="#231f20">EC&lt;0.1%(N=30)</text>
<text x="59.8" y="350.6" font-size="5.0" textLength="39.8" lengthAdjust="spacingAndGlyphs" fill="#231f20">Gray's test P=0.02</text>
<path d="M64.19,415.8H79.91V413.42H162.05" fill="none" stroke="#9a1c31" stroke-width="1.3" stroke-dasharray="3 2.5"/>
<path d="M52.4,415.8H64.19V412.79H72.05V409.77H119.21V406.76H158.51" fill="none" stroke="#3f567e" stroke-width="1.4"/>
<text transform="translate(188.41,321.70) scale(0.892,1)" font-size="11.01" class="t1" fill="#231f20">H</text>
<line x1="229.2" y1="337.0" x2="229.2" y2="420.45000000000005" stroke="#1c1a1a" stroke-width="1.2"/>
<line x1="226.1" y1="419.85" x2="349.9" y2="419.85" stroke="#1c1a1a" stroke-width="1.2"/>
<line x1="226.1" y1="419.85" x2="229.2" y2="419.85" stroke="#1c1a1a" stroke-width="1.2"/>
<text x="222.9" y="422.12" font-size="6.3" text-anchor="end" textLength="3.22" lengthAdjust="spacingAndGlyphs" class="t2" fill="#231f20">0</text>
<line x1="226.1" y1="403.98" x2="229.2" y2="403.98" stroke="#1c1a1a" stroke-width="1.2"/>
<text x="222.9" y="406.25" font-size="6.3" text-anchor="end" textLength="6.45" lengthAdjust="spacingAndGlyphs" class="t2" fill="#231f20">20</text>
<line x1="226.1" y1="388.11" x2="229.2" y2="388.11" stroke="#1c1a1a" stroke-width="1.2"/>
<text x="222.9" y="390.38" font-size="6.3" text-anchor="end" textLength="6.45" lengthAdjust="spacingAndGlyphs" class="t2" fill="#231f20">40</text>
<line x1="226.1" y1="372.24" x2="229.2" y2="372.24" stroke="#1c1a1a" stroke-width="1.2"/>
<text x="222.9" y="374.51" font-size="6.3" text-anchor="end" textLength="6.45" lengthAdjust="spacingAndGlyphs" class="t2" fill="#231f20">60</text>
<line x1="226.1" y1="356.37" x2="229.2" y2="356.37" stroke="#1c1a1a" stroke-width="1.2"/>
<text x="222.9" y="358.64" font-size="6.3" text-anchor="end" textLength="6.45" lengthAdjust="spacingAndGlyphs" class="t2" fill="#231f20">80</text>
<line x1="226.1" y1="340.5" x2="229.2" y2="340.5" stroke="#1c1a1a" stroke-width="1.2"/>
<text x="222.9" y="342.77" font-size="6.3" text-anchor="end" textLength="9.67" lengthAdjust="spacingAndGlyphs" class="t2" fill="#231f20">100</text>
<line x1="229.2" y1="419.85" x2="229.2" y2="422.95000000000005" stroke="#1c1a1a" stroke-width="1.2"/>
<text x="229.2" y="432.47" font-size="6.3" text-anchor="middle" textLength="3.22" lengthAdjust="spacingAndGlyphs" class="t2" fill="#231f20">0</text>
<line x1="252.68" y1="419.85" x2="252.68" y2="422.95000000000005" stroke="#1c1a1a" stroke-width="1.2"/>
<text x="252.68" y="432.47" font-size="6.3" text-anchor="middle" textLength="3.22" lengthAdjust="spacingAndGlyphs" class="t2" fill="#231f20">6</text>
<line x1="276.16" y1="419.85" x2="276.16" y2="422.95000000000005" stroke="#1c1a1a" stroke-width="1.2"/>
<text x="276.16" y="432.47" font-size="6.3" text-anchor="middle" textLength="6.45" lengthAdjust="spacingAndGlyphs" class="t2" fill="#231f20">12</text>
<line x1="299.64" y1="419.85" x2="299.64" y2="422.95000000000005" stroke="#1c1a1a" stroke-width="1.2"/>
<text x="299.64" y="432.47" font-size="6.3" text-anchor="middle" textLength="6.45" lengthAdjust="spacingAndGlyphs" class="t2" fill="#231f20">18</text>
<line x1="323.12" y1="419.85" x2="323.12" y2="422.95000000000005" stroke="#1c1a1a" stroke-width="1.2"/>
<text x="323.12" y="432.47" font-size="6.3" text-anchor="middle" textLength="6.45" lengthAdjust="spacingAndGlyphs" class="t2" fill="#231f20">24</text>
<line x1="346.6" y1="419.85" x2="346.6" y2="422.95000000000005" stroke="#1c1a1a" stroke-width="1.2"/>
<text x="346.6" y="432.47" font-size="6.3" text-anchor="middle" textLength="6.45" lengthAdjust="spacingAndGlyphs" class="t2" fill="#231f20">30</text>
<text x="206.6" y="378.2" font-size="8.8" text-anchor="middle" transform="rotate(-90 206.6 378.2)" textLength="85.2" lengthAdjust="spacingAndGlyphs" class="t1" fill="#231f20">Disease-free survival(%)</text>
<text x="289.55" y="443.0" font-size="8.7" text-anchor="middle" textLength="103.1" lengthAdjust="spacingAndGlyphs" class="t1" fill="#231f20">Months after transplantation</text>
<text x="239.8" y="392.0" font-size="5.0" textLength="41" lengthAdjust="spacingAndGlyphs" fill="#231f20">Log rank P&lt;0.0001</text>
<line x1="236.3" y1="402.2" x2="245.0" y2="402.2" stroke="#9a1c31" stroke-width="1.5" stroke-dasharray="3.5 1.8"/>
<line x1="236.3" y1="411.2" x2="245.0" y2="411.2" stroke="#3f567e" stroke-width="1.5"/>
<text x="247.9" y="404.0" font-size="5.0" textLength="35.8" lengthAdjust="spacingAndGlyphs" fill="#231f20">EC≥0.1%(N=38)</text>
<text x="247.9" y="413.0" font-size="5.0" textLength="35.8" lengthAdjust="spacingAndGlyphs" fill="#231f20">EC&lt;0.1%(N=30)</text>
<path d="M229.2,340.5H235.46V342.56H252.29V344.71H255.81V346.77H339.56" fill="none" stroke="#9a1c31" stroke-width="1.3" stroke-dasharray="3 2.5"/>
<path d="M229.2,340.5H235.19V345.82H236.67V351.05H238.2V353.75H240.08V361.69H241.8V364.31H248.77V377.56H252.17V380.18H266.26V382.79H323.39V388.59H335.25" fill="none" stroke="#3f567e" stroke-width="1.4"/>
<line x1="298.1" y1="381.0" x2="298.1" y2="382.6" stroke="#3f567e" stroke-width="0.9"/>
<line x1="308.1" y1="381.0" x2="308.1" y2="382.6" stroke="#3f567e" stroke-width="0.9"/>
<line x1="310.6" y1="381.0" x2="310.6" y2="382.6" stroke="#3f567e" stroke-width="0.9"/>
<line x1="312.75" y1="381.0" x2="312.75" y2="382.6" stroke="#3f567e" stroke-width="0.9"/>
<line x1="315.25" y1="381.0" x2="315.25" y2="382.6" stroke="#3f567e" stroke-width="0.9"/>
<line x1="317.25" y1="381.0" x2="317.25" y2="382.6" stroke="#3f567e" stroke-width="0.9"/>
<line x1="325.6" y1="387.0" x2="325.6" y2="388.6" stroke="#3f567e" stroke-width="0.9"/>
<line x1="328.1" y1="387.0" x2="328.1" y2="388.6" stroke="#3f567e" stroke-width="0.9"/>
<line x1="333.75" y1="387.0" x2="333.75" y2="388.6" stroke="#3f567e" stroke-width="0.9"/>
<line x1="335" y1="387.0" x2="335" y2="388.6" stroke="#3f567e" stroke-width="0.9"/>
<line x1="288.75" y1="344.8" x2="288.75" y2="347.2" stroke="#9a1c31" stroke-width="0.9"/>
<line x1="299.4" y1="344.8" x2="299.4" y2="347.2" stroke="#9a1c31" stroke-width="0.9"/>
<line x1="303.75" y1="344.8" x2="303.75" y2="347.2" stroke="#9a1c31" stroke-width="0.9"/>
<line x1="305.6" y1="344.8" x2="305.6" y2="347.2" stroke="#9a1c31" stroke-width="0.9"/>
<line x1="310" y1="344.8" x2="310" y2="347.2" stroke="#9a1c31" stroke-width="0.9"/>
<line x1="312.5" y1="344.8" x2="312.5" y2="347.2" stroke="#9a1c31" stroke-width="0.9"/>
<line x1="315.6" y1="344.8" x2="315.6" y2="347.2" stroke="#9a1c31" stroke-width="0.9"/>
<line x1="317.5" y1="344.8" x2="317.5" y2="347.2" stroke="#9a1c31" stroke-width="0.9"/>
<line x1="320" y1="344.8" x2="320" y2="347.2" stroke="#9a1c31" stroke-width="0.9"/>
<line x1="322.5" y1="344.8" x2="322.5" y2="347.2" stroke="#9a1c31" stroke-width="0.9"/>
<line x1="326.9" y1="344.8" x2="326.9" y2="347.2" stroke="#9a1c31" stroke-width="0.9"/>
<line x1="331.25" y1="344.8" x2="331.25" y2="347.2" stroke="#9a1c31" stroke-width="0.9"/>
<line x1="333.1" y1="344.8" x2="333.1" y2="347.2" stroke="#9a1c31" stroke-width="0.9"/>
<line x1="337.5" y1="344.8" x2="337.5" y2="347.2" stroke="#9a1c31" stroke-width="0.9"/>
<line x1="338.75" y1="344.8" x2="338.75" y2="347.2" stroke="#9a1c31" stroke-width="0.9"/>
<text transform="translate(348.91,321.70) scale(1.000,1)" font-size="11.01" class="t1" fill="#231f20">I</text>
<line x1="390.5" y1="336.9" x2="390.5" y2="420.40000000000003" stroke="#1c1a1a" stroke-width="1.2"/>
<line x1="387.2" y1="419.8" x2="511.9" y2="419.8" stroke="#1c1a1a" stroke-width="1.2"/>
<line x1="387.4" y1="419.8" x2="390.5" y2="419.8" stroke="#1c1a1a" stroke-width="1.2"/>
<text x="385.1" y="422.07" font-size="6.3" text-anchor="end" textLength="3.22" lengthAdjust="spacingAndGlyphs" class="t2" fill="#231f20">0</text>
<line x1="387.4" y1="403.94" x2="390.5" y2="403.94" stroke="#1c1a1a" stroke-width="1.2"/>
<text x="385.1" y="406.21" font-size="6.3" text-anchor="end" textLength="6.45" lengthAdjust="spacingAndGlyphs" class="t2" fill="#231f20">20</text>
<line x1="387.4" y1="388.08" x2="390.5" y2="388.08" stroke="#1c1a1a" stroke-width="1.2"/>
<text x="385.1" y="390.35" font-size="6.3" text-anchor="end" textLength="6.45" lengthAdjust="spacingAndGlyphs" class="t2" fill="#231f20">40</text>
<line x1="387.4" y1="372.22" x2="390.5" y2="372.22" stroke="#1c1a1a" stroke-width="1.2"/>
<text x="385.1" y="374.49" font-size="6.3" text-anchor="end" textLength="6.45" lengthAdjust="spacingAndGlyphs" class="t2" fill="#231f20">60</text>
<line x1="387.4" y1="356.36" x2="390.5" y2="356.36" stroke="#1c1a1a" stroke-width="1.2"/>
<text x="385.1" y="358.63" font-size="6.3" text-anchor="end" textLength="6.45" lengthAdjust="spacingAndGlyphs" class="t2" fill="#231f20">80</text>
<line x1="387.4" y1="340.5" x2="390.5" y2="340.5" stroke="#1c1a1a" stroke-width="1.2"/>
<text x="385.1" y="342.77" font-size="6.3" text-anchor="end" textLength="9.67" lengthAdjust="spacingAndGlyphs" class="t2" fill="#231f20">100</text>
<line x1="390.5" y1="419.8" x2="390.5" y2="422.90000000000003" stroke="#1c1a1a" stroke-width="1.2"/>
<text x="390.5" y="432.47" font-size="6.3" text-anchor="middle" textLength="3.22" lengthAdjust="spacingAndGlyphs" class="t2" fill="#231f20">0</text>
<line x1="414.14" y1="419.8" x2="414.14" y2="422.90000000000003" stroke="#1c1a1a" stroke-width="1.2"/>
<text x="414.14" y="432.47" font-size="6.3" text-anchor="middle" textLength="3.22" lengthAdjust="spacingAndGlyphs" class="t2" fill="#231f20">6</text>
<line x1="437.78" y1="419.8" x2="437.78" y2="422.90000000000003" stroke="#1c1a1a" stroke-width="1.2"/>
<text x="437.78" y="432.47" font-size="6.3" text-anchor="middle" textLength="6.45" lengthAdjust="spacingAndGlyphs" class="t2" fill="#231f20">12</text>
<line x1="461.42" y1="419.8" x2="461.42" y2="422.90000000000003" stroke="#1c1a1a" stroke-width="1.2"/>
<text x="461.42" y="432.47" font-size="6.3" text-anchor="middle" textLength="6.45" lengthAdjust="spacingAndGlyphs" class="t2" fill="#231f20">18</text>
<line x1="485.06" y1="419.8" x2="485.06" y2="422.90000000000003" stroke="#1c1a1a" stroke-width="1.2"/>
<text x="485.06" y="432.47" font-size="6.3" text-anchor="middle" textLength="6.45" lengthAdjust="spacingAndGlyphs" class="t2" fill="#231f20">24</text>
<line x1="508.7" y1="419.8" x2="508.7" y2="422.90000000000003" stroke="#1c1a1a" stroke-width="1.2"/>
<text x="508.7" y="432.47" font-size="6.3" text-anchor="middle" textLength="6.45" lengthAdjust="spacingAndGlyphs" class="t2" fill="#231f20">30</text>
<text x="368.4" y="378.15" font-size="8.8" text-anchor="middle" transform="rotate(-90 368.4 378.15)" textLength="67.5" lengthAdjust="spacingAndGlyphs" class="t1" fill="#231f20">Overall survival(%)</text>
<text x="451.3" y="443.2" font-size="8.7" text-anchor="middle" textLength="103.4" lengthAdjust="spacingAndGlyphs" class="t1" fill="#231f20">Months after transplantation</text>
<text x="402.1" y="391.0" font-size="5.0" textLength="41.6" lengthAdjust="spacingAndGlyphs" fill="#231f20">Log rank P&lt;0.0001</text>
<line x1="399.1" y1="401.7" x2="407.9" y2="401.7" stroke="#9a1c31" stroke-width="1.5" stroke-dasharray="3.5 1.8"/>
<line x1="399.1" y1="410.9" x2="407.9" y2="410.9" stroke="#3f567e" stroke-width="1.5"/>
<text x="410.6" y="403.5" font-size="5.0" textLength="35" lengthAdjust="spacingAndGlyphs" fill="#231f20">EC≥0.1%(N=38)</text>
<text x="410.6" y="412.7" font-size="5.0" textLength="35" lengthAdjust="spacingAndGlyphs" fill="#231f20">EC&lt;0.1%(N=30)</text>
<path d="M390.5,340.5H397.83V342.56H413.67V344.7H501.61" fill="none" stroke="#9a1c31" stroke-width="1.3" stroke-dasharray="3 2.5"/>
<path d="M390.5,340.5H396.73V345.81H398.62V351.05H400.51V353.74H402.44V358.98H404.25V361.67H410.24V377.53H414.38V380.15H428.48V382.77H497.87" fill="none" stroke="#3f567e" stroke-width="1.4"/>
<line x1="459.5" y1="380.6" x2="459.5" y2="382.2" stroke="#3f567e" stroke-width="0.9"/>
<line x1="469.3" y1="380.6" x2="469.3" y2="382.2" stroke="#3f567e" stroke-width="0.9"/>
<line x1="473.4" y1="380.6" x2="473.4" y2="382.2" stroke="#3f567e" stroke-width="0.9"/>
<line x1="475.3" y1="380.6" x2="475.3" y2="382.2" stroke="#3f567e" stroke-width="0.9"/>
<line x1="477.4" y1="380.6" x2="477.4" y2="382.2" stroke="#3f567e" stroke-width="0.9"/>
<line x1="479" y1="380.6" x2="479" y2="382.2" stroke="#3f567e" stroke-width="0.9"/>
<line x1="485.1" y1="380.6" x2="485.1" y2="382.2" stroke="#3f567e" stroke-width="0.9"/>
<line x1="487.8" y1="380.6" x2="487.8" y2="382.2" stroke="#3f567e" stroke-width="0.9"/>
<line x1="489.8" y1="380.6" x2="489.8" y2="382.2" stroke="#3f567e" stroke-width="0.9"/>
<line x1="494.5" y1="380.6" x2="494.5" y2="382.2" stroke="#3f567e" stroke-width="0.9"/>
<line x1="497.2" y1="380.6" x2="497.2" y2="382.2" stroke="#3f567e" stroke-width="0.9"/>
<line x1="451.9" y1="343.0" x2="451.9" y2="345.4" stroke="#9a1c31" stroke-width="0.9"/>
<line x1="461.25" y1="343.0" x2="461.25" y2="345.4" stroke="#9a1c31" stroke-width="0.9"/>
<line x1="463.75" y1="343.0" x2="463.75" y2="345.4" stroke="#9a1c31" stroke-width="0.9"/>
<line x1="466.9" y1="343.0" x2="466.9" y2="345.4" stroke="#9a1c31" stroke-width="0.9"/>
<line x1="468.1" y1="343.0" x2="468.1" y2="345.4" stroke="#9a1c31" stroke-width="0.9"/>
<line x1="473.1" y1="343.0" x2="473.1" y2="345.4" stroke="#9a1c31" stroke-width="0.9"/>
<line x1="475.6" y1="343.0" x2="475.6" y2="345.4" stroke="#9a1c31" stroke-width="0.9"/>
<line x1="477.5" y1="343.0" x2="477.5" y2="345.4" stroke="#9a1c31" stroke-width="0.9"/>
<line x1="480" y1="343.0" x2="480" y2="345.4" stroke="#9a1c31" stroke-width="0.9"/>
<line x1="482.5" y1="343.0" x2="482.5" y2="345.4" stroke="#9a1c31" stroke-width="0.9"/>
<line x1="484.4" y1="343.0" x2="484.4" y2="345.4" stroke="#9a1c31" stroke-width="0.9"/>
<line x1="486.9" y1="343.0" x2="486.9" y2="345.4" stroke="#9a1c31" stroke-width="0.9"/>
<line x1="489.4" y1="343.0" x2="489.4" y2="345.4" stroke="#9a1c31" stroke-width="0.9"/>
<line x1="491.25" y1="343.0" x2="491.25" y2="345.4" stroke="#9a1c31" stroke-width="0.9"/>
<line x1="493.75" y1="343.0" x2="493.75" y2="345.4" stroke="#9a1c31" stroke-width="0.9"/>
<line x1="495" y1="343.0" x2="495" y2="345.4" stroke="#9a1c31" stroke-width="0.9"/>
<line x1="500" y1="343.0" x2="500" y2="345.4" stroke="#9a1c31" stroke-width="0.9"/>
<line x1="501.3" y1="343.0" x2="501.3" y2="345.4" stroke="#9a1c31" stroke-width="0.9"/>
<rect x="1" y="451" width="517" height="1" fill="#9a9a9a"/>
<rect x="518" y="1" width="1" height="451" fill="#acacac"/>
<rect x="0" y="0" width="519" height="1" fill="#000"/>
<rect x="1" y="1" width="517" height="1" fill="#000" opacity="0.15"/>
<rect x="0" y="0" width="1" height="452" fill="#000"/>
<rect x="519" y="1" width="1" height="451" fill="#474747"/>
<rect x="1" y="452" width="518" height="1" fill="#444"/>
<rect x="519" y="0" width="1" height="1" fill="#6a6a6a"/>
<rect x="0" y="452" width="1" height="1" fill="#666"/>
<rect x="519" y="452" width="1" height="1" fill="#a8a8a8"/>
</svg></body></html>
